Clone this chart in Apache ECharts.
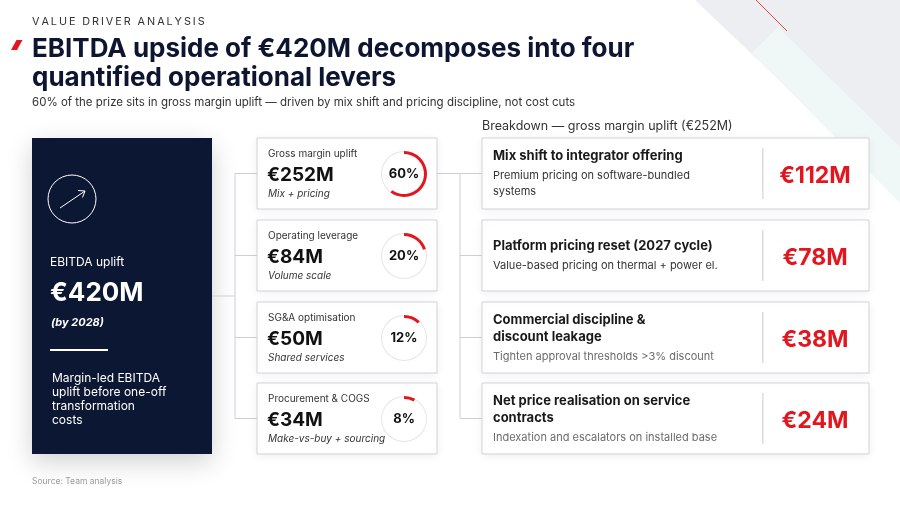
<!DOCTYPE html>
<html>
<head>
<meta charset="utf-8">
<script src="https://cdn.jsdelivr.net/npm/echarts@6/dist/echarts.min.js"></script>
<style>
  html, body { margin: 0; padding: 0; background: #fff; }
  #chart { width: 900px; height: 506px; }
</style>
</head>
<body>
<div id="chart"></div>
<script>
// Palancas de EBITDA (columna central)
const levers = ['Gross margin uplift', 'Operating leverage', 'SG&A optimisation', 'Procurement & COGS'];
const leverValues = [252, 84, 50, 34];
const leverShares = [60, 20, 12, 8];
const leverNotes = ['Mix + pricing', 'Volume scale', 'Shared services', 'Make-vs-buy + sourcing'];

// Desglose del margen bruto (columna derecha)
const breakdownTitles = [
  'Mix shift to integrator offering',
  'Platform pricing reset (2027 cycle)',
  'Commercial discipline &\ndiscount leakage',
  'Net price realisation on service\ncontracts'
];
const breakdownNotes = [
  'Premium pricing on software-bundled\nsystems',
  'Value-based pricing on thermal + power el.',
  'Tighten approval thresholds >3% discount',
  'Indexation and escalators on installed base'
];
const breakdownValues = [112, 78, 38, 24];

const totalUplift = 420;

const FONT = 'Inter, "Noto Sans", sans-serif';
const NAVY = '#0c1733';
const RED = '#e3161f';
const LINE = '#cdcfd4';

const rowTop = [138, 220, 302, 383];
const rowH = 71;

const spaced = s => s.split('').join('\u2009');

const graphic = [];

// fondo decorativo esquina superior derecha
graphic.push(
  { type: 'polygon', z: 0, shape: { points: [[695, 0], [900, 0], [900, 195]] }, style: { fill: '#eceef2' } },
  { type: 'polygon', z: 0, shape: { points: [[752, 53], [778, 27], [900, 147], [900, 203]] }, style: { fill: '#f0f8f7' } },
  { type: 'line', z: 1, shape: { x1: 756, y1: 0, x2: 787, y2: 31 }, style: { stroke: RED, lineWidth: 0.8 } }
);

// cabecera
graphic.push(
  { type: 'text', z: 5, style: { x: 32, y: 22, text: spaced('VALUE DRIVER ANALYSIS'), font: '400 10.8px ' + FONT, fill: '#333', verticalAlign: 'middle' } },
  { type: 'polygon', z: 5, shape: { points: [[11, 50], [17, 50], [22.5, 40], [16.5, 40]] }, style: { fill: RED } },
  { type: 'text', z: 5, style: { x: 32, y: 49, text: 'EBITDA upside of €' + totalUplift + 'M decomposes into four', font: '700 26px ' + FONT, fill: '#0d1530', verticalAlign: 'middle' } },
  { type: 'text', z: 5, style: { x: 32, y: 78, text: 'quantified operational levers', font: '700 26px ' + FONT, fill: '#0d1530', verticalAlign: 'middle' } },
  { type: 'text', z: 5, style: { x: 32, y: 103, text: '60% of the prize sits in gross margin uplift — driven by mix shift and pricing discipline, not cost cuts', font: '400 11.5px ' + FONT, fill: '#333', verticalAlign: 'middle' } },
  { type: 'text', z: 5, style: { x: 482, y: 126, text: 'Breakdown — gross margin uplift (€' + leverValues[0] + 'M)', font: '400 12.5px ' + FONT, fill: '#333', verticalAlign: 'middle' } },
  { type: 'text', z: 5, style: { x: 32, y: 481, text: 'Source: Team analysis', font: '400 8.5px ' + FONT, fill: '#9a9a9a', verticalAlign: 'middle' } }
);

// tarjeta azul marino
graphic.push(
  { type: 'rect', z: 1, shape: { x: 32, y: 138, width: 180, height: 316 }, style: { fill: NAVY, shadowBlur: 24, shadowOffsetY: 8, shadowColor: 'rgba(0,0,0,0.18)' } },
  { type: 'circle', z: 5, shape: { cx: 72, cy: 199, r: 24 }, style: { fill: 'none', stroke: '#fff', lineWidth: 1 } },
  { type: 'line', z: 5, shape: { x1: 60, y1: 208, x2: 85, y2: 191 }, style: { stroke: '#fff', lineWidth: 1 } },
  { type: 'polyline', z: 5, shape: { points: [[78, 190.5], [85, 191], [82.5, 197.5]] }, style: { stroke: '#fff', lineWidth: 1, fill: 'none' } },
  { type: 'text', z: 5, style: { x: 50, y: 262, text: 'EBITDA uplift', font: '400 12px ' + FONT, fill: '#fff', verticalAlign: 'middle' } },
  { type: 'text', z: 5, style: { x: 50, y: 293, text: '€' + totalUplift + 'M', font: '700 26px ' + FONT, fill: '#fff', verticalAlign: 'middle' } },
  { type: 'text', z: 5, style: { x: 51, y: 323, text: '(by 2028)', font: 'italic 700 11px ' + FONT, fill: '#fff', verticalAlign: 'middle' } },
  { type: 'rect', z: 5, shape: { x: 50, y: 349, width: 58, height: 2 }, style: { fill: '#fff' } },
  { type: 'text', z: 5, style: { x: 52, y: 371, text: 'Margin-led EBITDA\nuplift before one-off\ntransformation\ncosts', font: '400 12px ' + FONT, lineHeight: 14, fill: '#fff', verticalAlign: 'top' } }
);

// conectores
const cy = rowTop.map(t => t + rowH / 2);
graphic.push(
  { type: 'line', z: 1, shape: { x1: 212, y1: 296, x2: 235, y2: 296 }, style: { stroke: LINE, lineWidth: 1 } },
  { type: 'line', z: 1, shape: { x1: 235, y1: cy[0], x2: 235, y2: cy[3] }, style: { stroke: LINE, lineWidth: 1 } },
  { type: 'line', z: 1, shape: { x1: 437, y1: cy[0], x2: 460, y2: cy[0] }, style: { stroke: LINE, lineWidth: 1 } },
  { type: 'line', z: 1, shape: { x1: 460, y1: cy[0], x2: 460, y2: cy[3] }, style: { stroke: LINE, lineWidth: 1 } }
);
cy.forEach(y => {
  graphic.push(
    { type: 'line', z: 1, shape: { x1: 235, y1: y, x2: 257, y2: y }, style: { stroke: LINE, lineWidth: 1 } },
    { type: 'line', z: 1, shape: { x1: 460, y1: y, x2: 482, y2: y }, style: { stroke: LINE, lineWidth: 1 } }
  );
});

// tarjetas de palancas
const gauges = [];
levers.forEach((name, i) => {
  const top = rowTop[i];
  graphic.push(
    { type: 'rect', z: 1, shape: { x: 257, y: top, width: 180, height: rowH }, style: { fill: '#fff', stroke: '#d2d3d6', lineWidth: 1, shadowBlur: 10, shadowOffsetY: 2, shadowColor: 'rgba(0,0,0,0.06)' } },
    { type: 'text', z: 5, style: { x: 268, y: top + 16, text: name, font: '400 10px ' + FONT, fill: '#333', verticalAlign: 'middle' } },
    { type: 'text', z: 5, style: { x: 267, y: top + 37, text: '€' + leverValues[i] + 'M', font: '700 19px ' + FONT, fill: '#111', verticalAlign: 'middle' } },
    { type: 'text', z: 5, style: { x: 268, y: top + 56, text: leverNotes[i], font: 'italic 400 10px ' + FONT, fill: '#333', verticalAlign: 'middle' } }
  );
  gauges.push({
    type: 'gauge',
    z: 3,
    center: [404, top + 36],
    radius: 23,
    startAngle: 90,
    endAngle: -270,
    min: 0,
    max: 100,
    pointer: { show: false },
    progress: { show: true, width: 3, itemStyle: { color: RED } },
    axisLine: { lineStyle: { width: 1, color: [[1, '#e4e5e8']] } },
    splitLine: { show: false },
    axisTick: { show: false },
    axisLabel: { show: false },
    title: { show: false },
    detail: { show: true, offsetCenter: [0, 0], formatter: '{value}%', fontSize: 13, fontWeight: 700, fontFamily: FONT, color: '#111' },
    data: [{ value: leverShares[i] }]
  });
});

// tarjetas de desglose
breakdownTitles.forEach((title, i) => {
  const top = rowTop[i];
  const tLines = title.split('\n');
  const nLines = breakdownNotes[i].split('\n');
  const span = (tLines.length - 1) * 17 + 19.5 + (nLines.length - 1) * 16;
  let y = top + 36 - span / 2;
  graphic.push(
    { type: 'rect', z: 1, shape: { x: 482, y: top, width: 387, height: rowH }, style: { fill: '#fff', stroke: '#d2d3d6', lineWidth: 1, shadowBlur: 10, shadowOffsetY: 2, shadowColor: 'rgba(0,0,0,0.06)' } },
    { type: 'rect', z: 5, shape: { x: 762, y: top + 10, width: 1.5, height: rowH - 20 }, style: { fill: '#dcdcdf' } },
    { type: 'text', z: 5, style: { x: 815, y: top + 38, text: '€' + breakdownValues[i] + 'M', font: '700 23px ' + FONT, fill: RED, align: 'center', verticalAlign: 'middle' } }
  );
  tLines.forEach((ln, k) => {
    graphic.push({ type: 'text', z: 5, style: { x: 493, y: y + k * 17, text: ln, font: '700 13px ' + FONT, fill: '#1a1a1a', verticalAlign: 'middle' } });
  });
  y += (tLines.length - 1) * 17 + 19.5;
  nLines.forEach((ln, k) => {
    graphic.push({ type: 'text', z: 5, style: { x: 493, y: y + k * 16, text: ln, font: '400 11px ' + FONT, fill: i < 2 ? '#333' : '#6b6b6b', verticalAlign: 'middle' } });
  });
});

const myChart = echarts.init(document.getElementById('chart'), null, { renderer: 'canvas' });
myChart.setOption({
  animation: false,
  backgroundColor: '#fff',
  graphic: graphic,
  series: gauges
});
</script>
</body>
</html>
